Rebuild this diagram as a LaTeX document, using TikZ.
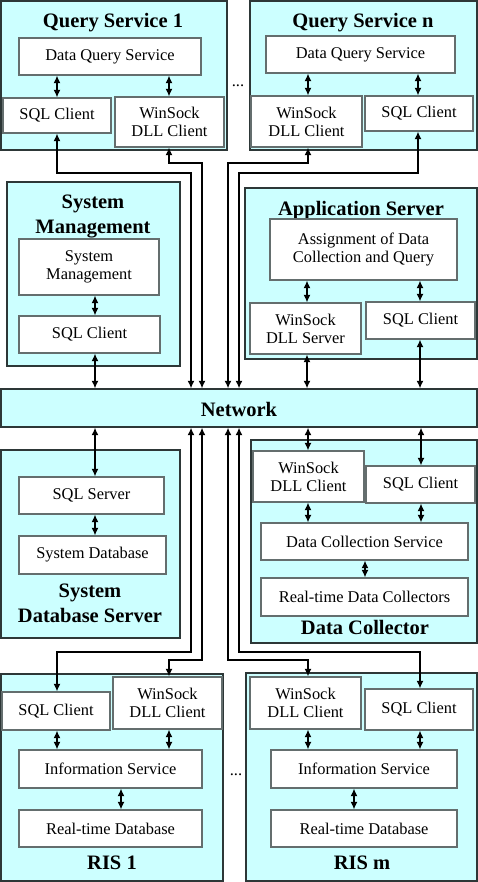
\documentclass[tikz,border=0pt]{standalone}
\usepackage{fontspec}
\setmainfont{Liberation Serif}
\usetikzlibrary{arrows.meta}
\definecolor{boxcyan}{RGB}{204,255,255}
\definecolor{inedge}{RGB}{100,110,110}
\definecolor{outedge}{RGB}{45,55,55}
\newcommand{\mkbox}[7]{%
  \node[#2, minimum width={(#5-#3)*1pt}, minimum height={(#6-#4)*1pt}] (#1) at ({(#3+#5)/2},{(#4+#6)/2}) {#7};}
\begin{document}
\begin{tikzpicture}[x=1pt,y=-1pt,
  outer/.style={draw=outedge, fill=boxcyan, line width=1.3pt, inner sep=0pt},
  inner/.style={draw=inedge, fill=white, line width=1.2pt, align=center, inner sep=0pt, font=\fontsize{16.4}{18}\selectfont},
  title/.style={font=\fontsize{20.5}{25}\selectfont\bfseries, align=center, inner sep=0pt},
  dots/.style={font=\fontsize{16.4}{18}\selectfont, anchor=base, inner sep=0pt},
  dar/.style={{Latex[length=7.5pt,width=7pt]}-{Latex[length=7.5pt,width=7pt]}, line width=1.4pt},
]
\useasboundingbox (0,0) rectangle (478,882);
% outer containers
\mkbox{qs1}{outer}{1}{1}{227}{150}{}
\mkbox{qsn}{outer}{250}{1}{477}{150}{}
\mkbox{sm}{outer}{7}{182}{180}{366}{}
\mkbox{as}{outer}{245}{188}{477}{359}{}
\mkbox{net}{outer}{1}{389}{477}{427}{}
\mkbox{sds}{outer}{1}{450}{180}{638}{}
\mkbox{dc}{outer}{251}{440}{477}{643}{}
\mkbox{ris1}{outer}{1}{674}{223}{881}{}
\mkbox{rism}{outer}{246}{673}{477}{881}{}
% titles
\node[title, anchor=base] (tqs1) at (113,28) {Query Service 1};
\node[title, anchor=base] (tqsn) at (363,28) {Query Service n};
\node[title] (tsm) at (93,216) {System\\Management};
\node[title, anchor=base] (tas) at (361,216) {Application Server};
\node[title, anchor=base] (tnet) at (239,416) {Network};
\node[title] (tsds) at (90,603) {System\\Database Server};
\node[title, anchor=base] (tdc) at (365,634) {Data Collector};
\node[title, anchor=base] (tr1) at (112,869) {RIS 1};
\node[title, anchor=base] (trm) at (362,869) {RIS m};
\node[dots] (dots1) at (238,87) {...};
\node[dots] (dots2) at (236,775) {...};
% inner boxes
\mkbox{dqs1}{inner}{19}{38}{201}{75}{Data Query Service}
\mkbox{sql1}{inner}{3}{98}{111}{133}{SQL Client}
\mkbox{ws1}{inner}{115}{97}{224}{147}{WinSock\\DLL Client}
\mkbox{dqsn}{inner}{266}{36}{455}{73}{Data Query Service}
\mkbox{wsn}{inner}{251}{96}{362}{147}{WinSock\\DLL Client}
\mkbox{sqln}{inner}{365}{96}{473}{131}{SQL Client}
\mkbox{smi}{inner}{19}{239}{159}{295}{System\\Management}
\mkbox{smsql}{inner}{19}{316}{160}{353}{SQL Client}
\mkbox{asg}{inner}{270}{219}{457}{280}{Assignment of Data\\Collection and Query}
\mkbox{wss}{inner}{250}{303}{361}{354}{WinSock\\DLL Server}
\mkbox{assql}{inner}{366}{302}{475}{339}{SQL Client}
\mkbox{sqlsrv}{inner}{19}{477}{164}{514}{SQL Server}
\mkbox{sysdb}{inner}{19}{536}{166}{574}{System Database}
\mkbox{dcws}{inner}{253}{451}{364}{502}{WinSock\\DLL Client}
\mkbox{dcsql}{inner}{366}{466}{475}{503}{SQL Client}
\mkbox{dcs}{inner}{261}{523}{468}{560}{Data Collection Service}
\mkbox{rtdc}{inner}{261}{578}{468}{616}{Real-time Data Collectors}
\mkbox{r1sql}{inner}{2}{692}{110}{730}{SQL Client}
\mkbox{r1ws}{inner}{113}{677}{222}{729}{WinSock\\DLL Client}
\mkbox{r1is}{inner}{19}{750}{202}{788}{Information Service}
\mkbox{r1db}{inner}{19}{810}{202}{847}{Real-time Database}
\mkbox{rmws}{inner}{250}{677}{361}{729}{WinSock\\DLL Client}
\mkbox{rmsql}{inner}{365}{689}{473}{730}{SQL Client}
\mkbox{rmis}{inner}{271}{750}{457}{788}{Information Service}
\mkbox{rmdb}{inner}{271}{810}{457}{847}{Real-time Database}
% short connectors
\draw[dar] (dqs1.south -| 57,0) -- (sql1.north -| 57,0);
\draw[dar] (dqs1.south -| 169,0) -- (ws1.north -| 169,0);
\draw[dar] (dqsn.south -| 308,0) -- (wsn.north -| 308,0);
\draw[dar] (dqsn.south -| 418,0) -- (sqln.north -| 418,0);
\draw[dar] (smi.south -| 95,0) -- (smsql.north -| 95,0);
\draw[dar] (smsql.south -| 95,0) -- (net.north -| 95,0);
\draw[dar] (asg.south -| 307,0) -- (wss.north -| 307,0);
\draw[dar] (asg.south -| 420,0) -- (assql.north -| 420,0);
\draw[dar] (wss.south -| 307,0) -- (net.north -| 307,0);
\draw[dar] (assql.south -| 420,0) -- (net.north -| 420,0);
\draw[dar] (net.south -| 95,0) -- (sqlsrv.north -| 95,0);
\draw[dar] (sqlsrv.south -| 95,0) -- (sysdb.north -| 95,0);
\draw[dar] (net.south -| 308,0) -- (dcws.north -| 308,0);
\draw[dar] (net.south -| 421,0) -- (dcsql.north -| 421,0);
\draw[dar] (dcws.south -| 308,0) -- (dcs.north -| 308,0);
\draw[dar] (dcsql.south -| 421,0) -- (dcs.north -| 421,0);
\draw[dar] (dcs.south -| 365,0) -- (rtdc.north -| 365,0);
\draw[dar] (r1sql.south -| 57,0) -- (r1is.north -| 57,0);
\draw[dar] (r1ws.south -| 169,0) -- (r1is.north -| 169,0);
\draw[dar] (r1is.south -| 121,0) -- (r1db.north -| 121,0);
\draw[dar] (rmws.south -| 308,0) -- (rmis.north -| 308,0);
\draw[dar] (rmsql.south -| 420,0) -- (rmis.north -| 420,0);
\draw[dar] (rmis.south -| 354,0) -- (rmdb.north -| 354,0);
% long connectors through the network
\draw[dar] (sql1.south -| 57,0) |- (191,173) -- (191,0 |- net.north);
\draw[dar] (ws1.south -| 169,0) |- (202,163) -- (202,0 |- net.north);
\draw[dar] (wsn.south -| 308,0) |- (228,163) -- (228,0 |- net.north);
\draw[dar] (sqln.south -| 418,0) |- (239,173) -- (239,0 |- net.north);
\draw[dar] (191,0 |- net.south) |- (57,652) -- (57,0 |- r1sql.north);
\draw[dar] (202,0 |- net.south) |- (169,660) -- (169,0 |- r1ws.north);
\draw[dar] (228,0 |- net.south) |- (308,660) -- (308,0 |- rmws.north);
\draw[dar] (239,0 |- net.south) |- (420,652) -- (420,0 |- rmsql.north);
\end{tikzpicture}
\end{document}
